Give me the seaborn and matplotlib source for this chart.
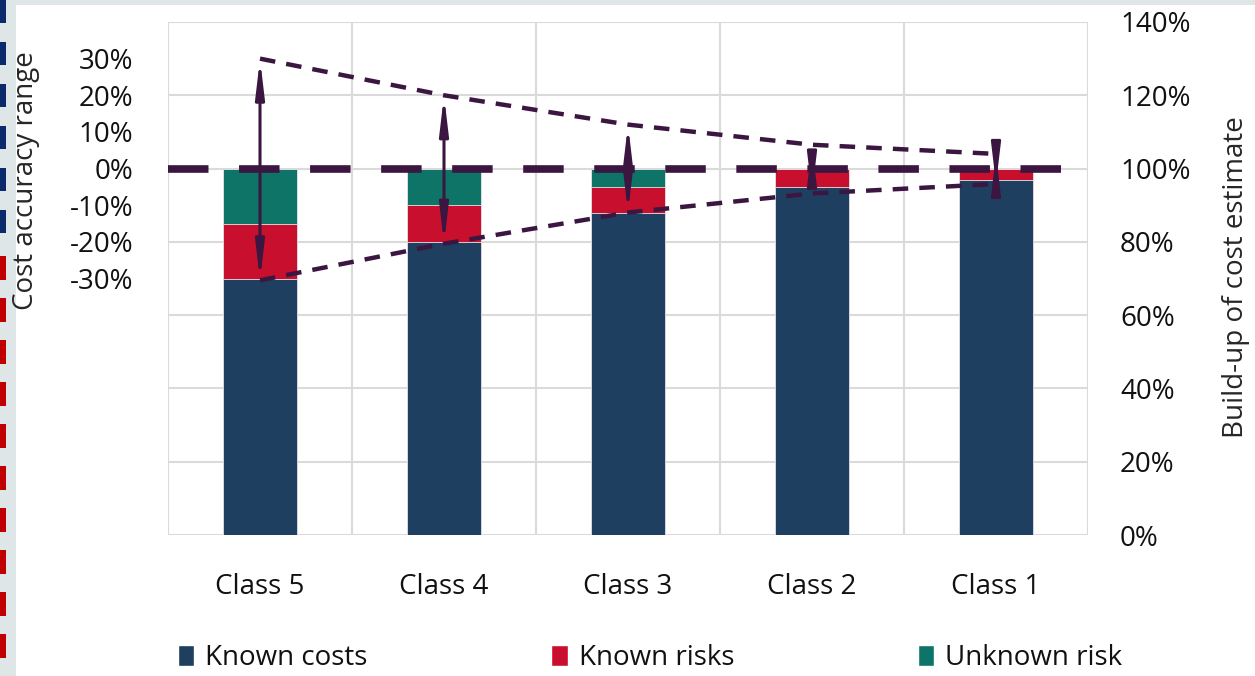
import numpy as np
import pandas as pd
import matplotlib.pyplot as plt
import seaborn as sns
from matplotlib.patches import Rectangle, Patch

# data (percent of cost estimate)
classes = ["Class 5", "Class 4", "Class 3", "Class 2", "Class 1"]
known_costs = [70, 80, 88, 95, 97]
known_risks = [15, 10, 7, 5, 3]
unknown_risk = [15, 10, 5, 0, 0]
upper_range = [130, 120, 112, 106.5, 104]
lower_range = [69.5, 79.5, 88, 93.2, 95.8]
left_ticks = [30, 20, 10, 0, -10, -20, -30]

navy = "#1f3f60"
red = "#c8102e"
teal = "#0e7468"
purple = "#3b1640"
grid_c = "#dadada"

df = pd.DataFrame({"cls": classes, "kc": known_costs, "kr": known_risks, "ur": unknown_risk})
df["kc_kr"] = df["kc"] + df["kr"]
df["total"] = df["kc_kr"] + df["ur"]

sns.set_style("white")
plt.rcParams["font.family"] = ["Open Sans", "DejaVu Sans"]
plt.rcParams["text.color"] = "#111111"
plt.rcParams["xtick.color"] = "#111111"
plt.rcParams["ytick.color"] = "#111111"

fig = plt.figure(figsize=(12.55, 6.76), dpi=100, facecolor="#dfe6e8")
# white panel + little stripe border on the left
fig.patches.append(Rectangle((16 / 1255, 0), 1, 1 - 5 / 676, transform=fig.transFigure,
                             facecolor="white", edgecolor="none", zorder=-10))
for y0 in range(0, 215, 42):
    fig.patches.append(Rectangle((0, 1 - (y0 + 23) / 676), 6 / 1255, 23 / 676, zorder=-10,
                                 transform=fig.transFigure, facecolor="#0b2a6b", edgecolor="none"))
for y0 in range(256, 676, 42):
    fig.patches.append(Rectangle((0, 1 - (y0 + 24) / 676), 6 / 1255, 24 / 676, zorder=-10,
                                 transform=fig.transFigure, facecolor="#c00000", edgecolor="none"))

ax = fig.add_axes([168 / 1255, 1 - 535 / 676, 920 / 1255, 513 / 676])
ax.set_facecolor("white")

# stacked bars: draw totals first, then overlay
for col, c in [("total", teal), ("kc_kr", red), ("kc", navy)]:
    sns.barplot(data=df, x="cls", y=col, color=c, width=0.4, saturation=1, ax=ax,
                zorder=2, edgecolor="#e6e6ea", linewidth=0.6)

# left axis: cost accuracy range (twinx resets ticks of ax, so do it first)
ax2 = ax.twinx()
ax2.set_ylim(-100, 40)
ax2.set_yticks(left_ticks)
ax2.set_yticklabels([f"{v}%" for v in left_ticks])
ax2.yaxis.tick_left()
ax2.yaxis.set_label_position("left")
ax2.tick_params(axis="y", length=0, pad=25, labelsize=20)
ax2.set_ylabel("Cost accuracy range", fontsize=20)
ax2.yaxis.set_label_coords(-0.139, 0.69)
for s in ax2.spines.values():
    s.set_visible(False)
ax2.grid(False)

ax.set_ylim(0, 140)
ax.set_xlim(-0.5, 4.5)
ax.set_yticks(range(0, 141, 20))
ax.set_yticklabels([f"{v}%" for v in range(0, 141, 20)])
ax.yaxis.tick_right()
ax.yaxis.set_label_position("right")
ax.set_xticks(range(len(classes)))
ax.set_xticks(np.arange(-0.5, 5, 1), minor=True)
ax.grid(axis="y", which="major", color=grid_c, lw=1.5, zorder=0)
ax.grid(axis="x", which="minor", color=grid_c, lw=1.5, zorder=0)
ax.grid(axis="x", which="major", visible=False)
ax.tick_params(axis="y", length=0, pad=23, labelsize=20)
ax.tick_params(axis="x", which="both", length=0, pad=27, labelsize=20)
ax.set_xlabel("")
ax.set_ylabel("Build-up of cost estimate", fontsize=20)
ax.yaxis.set_label_coords(1.146, 0.503)
for s in ax.spines.values():
    s.set_visible(False)

# 100% baseline
ax.axhline(100, color=purple, lw=5.5, linestyle=(0, (5.3, 4)), zorder=4)

# accuracy envelope
x = np.arange(len(classes))
ax.plot(x, upper_range, color=purple, lw=3.2, dashes=(3.5, 2.5), zorder=5)
ax.plot(x, lower_range, color=purple, lw=3.2, dashes=(3.5, 2.5), zorder=5)
for xi, hi, lo in zip(x, upper_range, lower_range):
    ax.annotate("", xy=(xi, hi), xytext=(xi, lo), zorder=6,
                arrowprops=dict(arrowstyle="<|-|>,head_length=2.2,head_width=0.26",
                                color=purple, lw=2.2, shrinkA=0, shrinkB=0))

handles = [Patch(facecolor=navy), Patch(facecolor=red), Patch(facecolor=teal)]
fig.legend(handles, ["Known costs", "Known risks", "Unknown risk"], loc="center",
           bbox_to_anchor=(0.518, 1 - 658 / 676), ncol=3, frameon=False, fontsize=20,
           handlelength=0.6, handleheight=0.8, handletextpad=0.4, columnspacing=6.6)

plt.savefig("out.png", dpi=100, facecolor=fig.get_facecolor())
